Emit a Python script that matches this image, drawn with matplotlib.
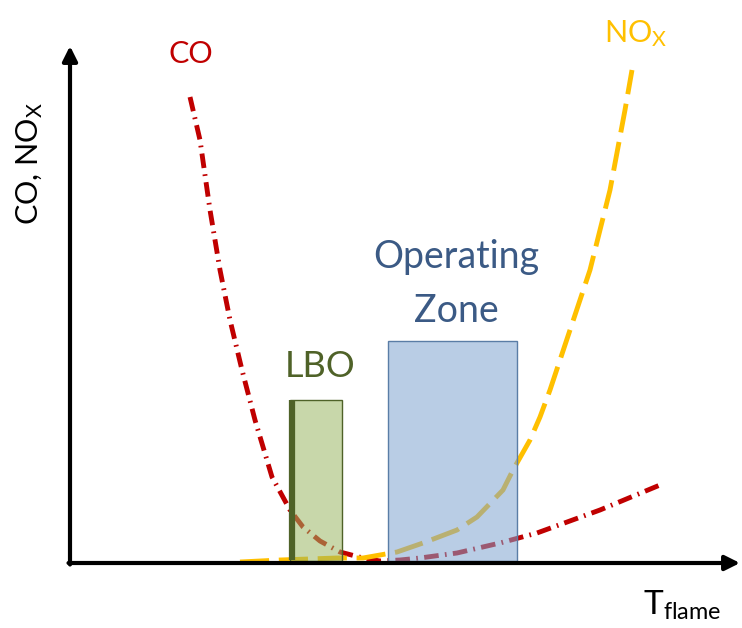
import matplotlib
matplotlib.use('Agg')
import matplotlib.pyplot as plt
from matplotlib.patches import Rectangle

plt.rcParams['font.family'] = ['Lato', 'DejaVu Sans']
plt.rcParams['mathtext.fontset'] = 'custom'
plt.rcParams['mathtext.rm'] = 'Lato'
plt.rcParams['mathtext.default'] = 'regular'

# schematic curves (T_flame vs emission level, arbitrary units)
co_t = [120, 130, 140, 150, 160, 172, 185, 202, 220, 233, 250, 270, 293, 310,
        330, 350, 387, 430, 467, 530, 590]
co_level = [466, 423, 353, 293, 243, 193, 143, 86, 53, 36, 22, 11, 5, 2,
            3, 5, 10, 20, 30, 53, 78]

nox_t = [170, 210, 267, 293, 327, 353, 387, 407, 433, 443, 460, 470, 480,
         500, 520, 540, 555, 562]
nox_level = [1, 3, 5, 5, 11, 20, 33, 46, 73, 93, 123, 146, 173,
             233, 293, 373, 453, 493]

# zones: (t_start, t_end, height)
lbo_zone = (220, 272, 161)
operating_zone = (318, 447, 220)

CO_RED = '#C00000'
NOX_GOLD = '#FFC000'
LBO_GREEN = '#4F6228'
OP_BLUE = '#3B5A85'

fig = plt.figure(figsize=(7.42, 6.28), dpi=100)
ax = fig.add_axes([0, 0, 1, 1])
ax.set_xlim(-70, 672)
ax.set_ylim(-65, 563)
ax.axis('off')

# curves
ax.plot(co_t, co_level, color=CO_RED, lw=3.5, dashes=(3.0, 1.3, 0.35, 1.3), zorder=2)
ax.plot(nox_t, nox_level, color=NOX_GOLD, lw=3.5, dashes=(6.0, 2.0), zorder=2)

# zones drawn over the curves, see-through
t0, t1, h = lbo_zone
ax.add_patch(Rectangle((t0, 2), t1 - t0, h, facecolor='#9BB664', alpha=0.55,
                       edgecolor='none', zorder=3))
ax.add_patch(Rectangle((t0, 2), t1 - t0, h, facecolor='none',
                       edgecolor=LBO_GREEN, lw=1, zorder=4))
ax.plot([t0 + 1.5, t0 + 1.5], [3, h + 2], color=LBO_GREEN, lw=4.5, zorder=5,
        solid_capstyle='butt')

t0, t1, h = operating_zone
ax.add_patch(Rectangle((t0, 2), t1 - t0, h, facecolor='#80A4D0', alpha=0.55,
                       edgecolor='none', zorder=3))
ax.add_patch(Rectangle((t0, 2), t1 - t0, h, facecolor='none',
                       edgecolor='#5A7DA6', lw=1, zorder=4))

# axes arrows
arrow = dict(arrowstyle='-|>', lw=3, color='black', mutation_scale=22,
             shrinkA=0, shrinkB=0)
ax.annotate('', xy=(0, 517), xytext=(0, -1.5), arrowprops=arrow, zorder=6)
ax.annotate('', xy=(670, 0), xytext=(-1.5, 0), arrowprops=arrow, zorder=6)

# labels
ax.text(121, 500, 'CO', color=CO_RED, fontsize=22, ha='center', va='baseline')
ax.text(566, 521, 'NO$_{X}$', color=NOX_GOLD, fontsize=22, ha='center', va='baseline')
ax.text(386, 295, 'Operating', color=OP_BLUE, fontsize=27, ha='center', va='baseline')
ax.text(386, 241, 'Zone', color=OP_BLUE, fontsize=27, ha='center', va='baseline')
ax.text(250, 186, 'LBO', color=LBO_GREEN, fontsize=26, ha='center', va='baseline')
ax.text(-40, 400, 'CO, NO$_{X}$', fontsize=22, rotation=90, ha='center', va='center')
ax.text(612, -42, 'T$_{flame}$', fontsize=24, ha='center', va='center')

fig.savefig('out.png', dpi=100)
